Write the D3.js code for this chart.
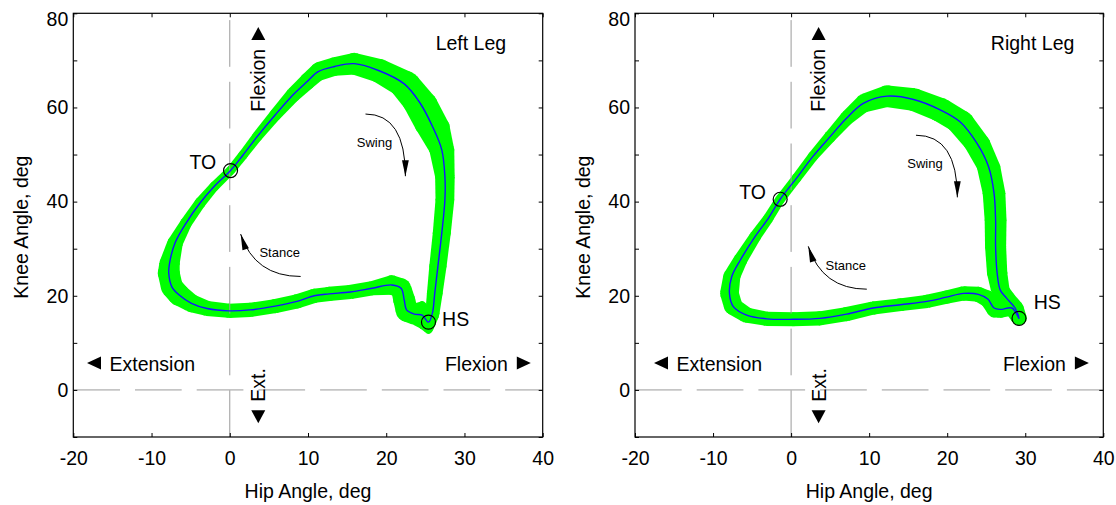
<!DOCTYPE html>
<html>
<head>
<meta charset="utf-8">
<script src="https://cdn.jsdelivr.net/npm/d3@7"></script>
<style>
  body { margin: 0; background: #fff; }
  svg { display: block; font-family: "Liberation Sans", Arial, sans-serif; }
</style>
</head>
<body>
<svg id="chart" width="1116" height="505"></svg>
<script>
// ---- data ----
const hipTicks = [-20, -10, 0, 10, 20, 30, 40];
const kneeTicks = [-10, 0, 10, 20, 30, 40, 50, 60, 70, 80];
const kneeLabels = [0, 20, 40, 60, 80];

// left leg: mean loop starting at heel strike, then stance, toe off, swing
const leftHip = [25.4, 24.6, 23.6, 22.6, 22.3, 21.9, 20.7, 18.2, 15.4, 12.7, 10.8, 8.6, 5.8, 2.6, -0.1,
  -2.9, -4.9, -6.5, -7.4, -7.8, -7.7, -7.0, -5.6, -3.8, -2.0, 0.1, 1.7, 3.5, 5.8, 8.1,
  9.9, 11.3, 13.4, 15.9, 19.1, 22.3, 24.3, 25.9, 27.1, 27.5, 27.5, 27.1, 26.6, 26.2, 25.9];
const leftKnee = [14.4, 15.9, 16.1, 17.0, 19.1, 21.6, 22.3, 21.6, 20.8, 20.4, 20.0, 18.8, 17.8, 17.0, 16.8,
  17.3, 18.4, 20.2, 21.9, 24.8, 26.9, 31.2, 35.4, 39.7, 43.2, 46.6, 49.9, 53.8, 58.4, 62.7,
  65.5, 67.6, 68.7, 69.3, 67.8, 65.0, 61.0, 56.0, 51.0, 45.3, 40.4, 33.3, 26.2, 20.5, 16.3];
const leftHipSD = [0.8, 0.8, 1.0, 1.4, 1.4, 1.3, 1.0, 1.0, 1.0, 1.0, 1.0, 1.0, 1.0, 1.0, 1.0,
  1.0, 1.2, 1.4, 1.4, 1.4, 1.3, 1.0, 0.75, 0.7, 0.6, 0.55, 0.6, 0.65, 0.75, 0.9,
  1.0, 1.0, 1.0, 1.2, 1.6, 2.0, 2.2, 2.2, 1.6, 1.25, 1.2, 1.15, 1.1, 1.0, 0.9];
const leftKneeSD = [2.5, 3.0, 2.3, 2.5, 2.1, 2.1, 2.1, 1.5, 1.5, 1.5, 1.5, 1.5, 1.5, 1.5, 1.5,
  1.6, 1.9, 2.3, 2.3, 2.0, 1.7, 1.5, 1.2, 1.2, 1.05, 1.0, 1.0, 1.1, 1.3, 1.6,
  1.8, 2.0, 2.0, 2.3, 2.5, 2.8, 2.5, 2.2, 1.8, 1.5, 1.5, 1.5, 1.5, 1.5, 1.8];
const leftHS = 0, leftTO = 25;

// right leg
const rightHip = [29.2, 28.3, 26.8, 26.0, 25.2, 24.0, 22.1, 19.9, 17.4, 14.0, 10.5, 7.1, 3.7, 0.3, -3.1,
  -5.7, -7.4, -7.9, -7.6, -6.5, -4.6, -2.9, -1.4, 0.7, 2.8, 5.0, 7.1, 9.3, 12.3, 15.7,
  19.1, 21.6, 23.8, 25.3, 26.0, 26.2, 26.2, 26.4, 26.8, 27.6, 28.7];
const rightKnee = [15.2, 17.4, 17.1, 17.4, 19.3, 20.3, 20.5, 19.7, 18.8, 18.1, 17.4, 16.1, 15.2, 15.0, 15.1,
  15.9, 17.7, 20.5, 24.1, 27.6, 32.6, 36.5, 40.5, 45.0, 49.6, 53.8, 57.7, 60.9, 62.4, 61.7,
  59.5, 57.0, 52.4, 47.4, 41.8, 36.1, 30.4, 24.8, 21.2, 19.5, 17.4];
const rightHipSD = [1.0, 1.0, 1.0, 1.0, 1.0, 1.0, 1.0, 1.0, 1.0, 1.0, 1.0, 1.0, 1.0, 1.0, 1.0,
  1.1, 1.2, 1.2, 1.1, 0.9, 0.75, 0.65, 0.6, 0.6, 0.65, 0.75, 0.85, 1.0, 1.3, 1.5,
  1.7, 1.8, 1.7, 1.5, 1.45, 1.4, 1.35, 1.3, 1.2, 1.1, 1.1];
const rightKneeSD = [1.5, 1.6, 1.8, 2.0, 1.8, 1.6, 1.5, 1.4, 1.4, 1.35, 1.4, 1.5, 1.5, 1.5, 1.5,
  1.6, 1.8, 1.8, 1.6, 1.4, 1.2, 1.1, 1.05, 1.05, 1.1, 1.3, 1.6, 2.0, 2.3, 2.4,
  2.5, 2.4, 2.0, 1.6, 1.5, 1.5, 1.5, 1.5, 1.5, 1.6, 1.6];
const rightHS = 0, rightTO = 22;

// ---- drawing ----
const svg = d3.select("#chart");
const GREEN = "#00ff00", BLUE = "#1414ff", DASH = "#9a9a9a";
const FONT = 19.5;

function tri(g, cx, cy, w, h, dir) {
  // small filled triangle pointing up/down/left/right
  let p;
  if (dir === "up") p = [[cx, cy - h / 2], [cx + w / 2, cy + h / 2], [cx - w / 2, cy + h / 2]];
  if (dir === "down") p = [[cx, cy + h / 2], [cx + w / 2, cy - h / 2], [cx - w / 2, cy - h / 2]];
  if (dir === "left") p = [[cx - w / 2, cy], [cx + w / 2, cy - h / 2], [cx + w / 2, cy + h / 2]];
  if (dir === "right") p = [[cx + w / 2, cy], [cx - w / 2, cy - h / 2], [cx - w / 2, cy + h / 2]];
  g.append("path").attr("d", "M" + p.join("L") + "Z").attr("fill", "#000");
}

function curvedArrow(g, x, y, a, b) {
  // quadratic arc: horizontal at the start, ends along (ctrl -> tip)
  const s = [x(a[0]), y(a[1])], e = [x(b[0]), y(b[1])], c = [x(b[2]), y(b[3])];
  g.append("path").attr("d", `M${s}Q${c} ${e}`).attr("fill", "none")
    .attr("stroke", "#000").attr("stroke-width", 1);
  const ang = Math.atan2(e[1] - c[1], e[0] - c[0]);
  const L = 16, W = 3.4;
  const bx = e[0] - L * Math.cos(ang), by = e[1] - L * Math.sin(ang);
  const px = -Math.sin(ang) * W, py = Math.cos(ang) * W;
  g.append("path").attr("d", `M${e}L${bx + px},${by + py}L${bx - px},${by - py}Z`).attr("fill", "#000");
}

function panel(o) {
  const x = d3.scaleLinear().domain([-20, 40]).range([o.x0, o.x1]);
  const y = d3.scaleLinear().domain([-10, 80]).range([437, 13.3]);
  const g = svg.append("g");

  // band: ellipses (hip SD x knee SD) at each sample joined by tangent quads
  const P = o.hip.map((h, i) => ({
    x: x(h), y: y(o.knee[i]),
    rx: x(o.hipSD[i]) - x(0), ry: y(0) - y(o.kneeSD[i])
  }));
  const n = P.length;
  const quads = d3.range(n).map(i => {
    const a = P[i], b = P[(i + 1) % n];
    const dx = b.x - a.x, dy = b.y - a.y, L = Math.hypot(dx, dy) || 1;
    const nx = -dy / L, ny = dx / L;
    const t = p => {
      const s = Math.hypot(p.rx * nx, p.ry * ny) || 1;
      return [p.rx * p.rx * nx / s, p.ry * p.ry * ny / s];
    };
    const ta = t(a), tb = t(b);
    return [[a.x + ta[0], a.y + ta[1]], [b.x + tb[0], b.y + tb[1]],
            [b.x - tb[0], b.y - tb[1]], [a.x - ta[0], a.y - ta[1]]];
  });
  const band = g.append("g").attr("fill", GREEN);
  band.selectAll("ellipse").data(P).join("ellipse")
    .attr("cx", d => d.x).attr("cy", d => d.y).attr("rx", d => d.rx).attr("ry", d => d.ry);
  band.selectAll("path").data(quads).join("path").attr("d", q => "M" + q.join("L") + "Z");

  // zero lines
  g.append("line").attr("x1", x(0)).attr("x2", x(0)).attr("y1", y(-10)).attr("y2", y(80))
    .attr("stroke", DASH).attr("stroke-width", 1).attr("stroke-dasharray", "46.7,15");
  g.append("line").attr("x1", x(-20)).attr("x2", x(40)).attr("y1", y(0)).attr("y2", y(0))
    .attr("stroke", DASH).attr("stroke-width", 1).attr("stroke-dasharray", "46.7,15");

  // mean curve
  const line = d3.line().x(d => x(d[0])).y(d => y(d[1])).curve(d3.curveCatmullRomClosed.alpha(0.5));
  g.append("path").datum(o.hip.map((h, i) => [h, o.knee[i]]))
    .attr("d", line).attr("fill", "none").attr("stroke", BLUE).attr("stroke-width", 1.4);

  // TO / HS markers
  [[o.to, o.toLab, "end"], [o.hs, o.hsLab, "start"]].forEach(([i, off, anc], k) => {
    const cx = x(o.hip[i]), cy = y(o.knee[i]);
    g.append("circle").attr("cx", cx).attr("cy", cy).attr("r", 7)
      .attr("fill", "none").attr("stroke", "#000").attr("stroke-width", 1.2);
    g.append("text").attr("x", cx + off[0]).attr("y", cy + off[1]).attr("text-anchor", anc)
      .attr("font-size", FONT).text(k === 0 ? "TO" : "HS");
  });

  // swing / stance arrows
  curvedArrow(g, x, y, o.swing[0], o.swing[1]);
  curvedArrow(g, x, y, o.stance[0], o.stance[1]);
  const sw = [x(o.swing[0][0]) + 9, y(o.swing[0][1]) + 33];
  const st = [x(o.stance[0][0]) - 21, y(o.stance[0][1]) - 19];
  g.append("text").attr("x", sw[0]).attr("y", sw[1]).attr("text-anchor", "middle")
    .attr("font-size", 13).text("Swing");
  g.append("text").attr("x", st[0]).attr("y", st[1]).attr("text-anchor", "middle")
    .attr("font-size", 13).text("Stance");

  // direction annotations
  g.append("text").attr("x", o.x0 + 397.6).attr("y", 50).attr("text-anchor", "middle")
    .attr("font-size", FONT).text(o.title);
  tri(g, o.extTri, 363, 14, 13, "left");
  g.append("text").attr("x", o.extTri + 15.5).attr("y", 370.5).attr("font-size", FONT).text("Extension");
  tri(g, o.flexTri, 363, 14, 13, "right");
  g.append("text").attr("x", o.flexTri - 16).attr("y", 370.5).attr("text-anchor", "end")
    .attr("font-size", FONT).text("Flexion");
  const vx = x(0) + o.vOff;
  tri(g, vx - 6.5, 33.5, 14, 13, "up");
  g.append("text").attr("transform", `translate(${vx},111.7) rotate(-90)`)
    .attr("font-size", FONT).text("Flexion");
  g.append("text").attr("transform", `translate(${vx + 0.5},401.7) rotate(-90)`)
    .attr("font-size", FONT).text("Ext.");
  tri(g, vx - 6.5, 416.7, 14, 13, "down");

  // frame and axes (ticks inward on all four sides)
  const tickText = s => s.selectAll("text").attr("fill", "#000");
  const ax = s => s.attr("font-family", null).attr("font-size", FONT).call(t => t.select(".domain").remove())
    .call(t => t.selectAll("line").attr("stroke", "#000"));
  g.append("g").attr("transform", `translate(0,${y(-10)})`)
    .call(d3.axisBottom(x).tickValues(hipTicks).tickSizeInner(-4).tickSizeOuter(0)
      .tickPadding(14).tickFormat(d => String(d))).call(ax).call(tickText);
  g.append("g").attr("transform", `translate(0,${y(80)})`)
    .call(d3.axisTop(x).tickValues(hipTicks).tickSizeInner(-4).tickSizeOuter(0).tickFormat("")).call(ax);
  const yl = g.append("g").attr("transform", `translate(${o.x0},0)`)
    .call(d3.axisLeft(y).tickValues(kneeTicks).tickSizeInner(-4).tickSizeOuter(0).tickPadding(5)
      .tickFormat(d => kneeLabels.includes(d) ? String(d) : "")).call(ax).call(tickText);
  yl.selectAll(".tick").filter(d => d === 80).select("text").attr("dy", "0.62em");
  g.append("g").attr("transform", `translate(${o.x1},0)`)
    .call(d3.axisRight(y).tickValues(kneeTicks).tickSizeInner(-4).tickSizeOuter(0).tickFormat("")).call(ax);
  g.append("rect").attr("x", o.x0).attr("y", y(80)).attr("width", o.x1 - o.x0).attr("height", y(-10) - y(80))
    .attr("fill", "none").attr("stroke", "#000").attr("stroke-width", 1.2);

  // axis titles
  g.append("text").attr("x", (o.x0 + o.x1) / 2).attr("y", 498).attr("text-anchor", "middle")
    .attr("font-size", FONT).text("Hip Angle, deg");
  g.append("text").attr("transform", `translate(${o.x0 - 45.5},${(y(80) + y(-10)) / 2 + 2}) rotate(-90)`)
    .attr("text-anchor", "middle").attr("font-size", FONT).text("Knee Angle, deg");
}

panel({
  x0: 73.3, x1: 542.7, title: "Left Leg",
  hip: leftHip, knee: leftKnee, hipSD: leftHipSD, kneeSD: leftKneeSD,
  hs: leftHS, to: leftTO, toLab: [-14.3, -1.7], hsLab: [13.6, 4],
  swing: [[17.35, 58.6], [22.45, 45.4, 22.45, 58.6]],
  stance: [[9.06, 24.1], [1.39, 33.1, 3.2, 24.1]],
  extTri: 94, flexTri: 523.8, vOff: 35
});
panel({
  x0: 635, x1: 1103.3, title: "Right Leg",
  hip: rightHip, knee: rightKnee, hipSD: rightHipSD, kneeSD: rightKneeSD,
  hs: rightHS, to: rightTO, toLab: [-14.3, 0], hsLab: [14.7, -9],
  swing: [[16.0, 54.1], [21.3, 40.9, 21.3, 54.1]],
  stance: [[9.7, 21.4], [2.2, 30.5, 4.0, 21.4]],
  extTri: 661, flexTri: 1081.9, vOff: 34
});
</script>
</body>
</html>
